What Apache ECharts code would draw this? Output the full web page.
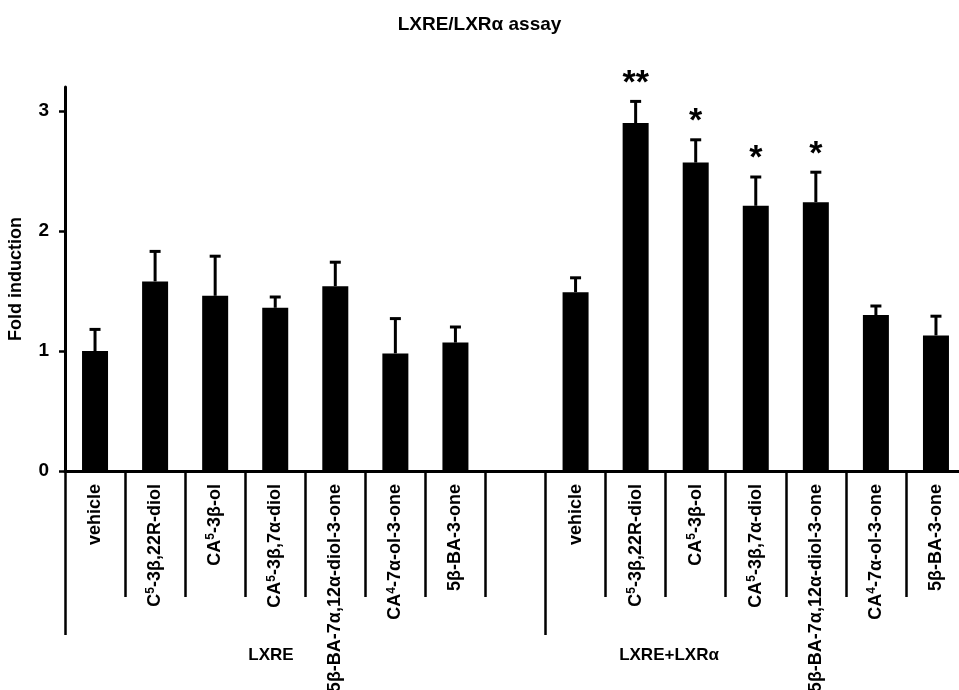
<!DOCTYPE html>
<html>
<head>
<meta charset="utf-8">
<script src="https://cdn.jsdelivr.net/npm/echarts@6/dist/echarts.min.js"></script>
<style>html,body{margin:0;padding:0;background:#fff;}#c{width:959px;height:690px;}</style>
</head>
<body>
<div id="c"></div>
<script>
// ---- data ----
var compounds = ['vehicle', 'C⁵-3β,22R-diol', 'CA⁵-3β-ol', 'CA⁵-3β,7α-diol', '5β-BA-7α,12α-diol-3-one', 'CA⁴-7α-ol-3-one', '5β-BA-3-one'];
var groups = ['LXRE', 'LXRE+LXRα'];
var lxreMeans = [1.00, 1.58, 1.46, 1.36, 1.54, 0.98, 1.07];
var lxreErrors = [0.18, 0.25, 0.33, 0.09, 0.20, 0.29, 0.13];
var lxrMeans = [1.49, 2.90, 2.57, 2.21, 2.24, 1.30, 1.13];
var lxrErrors = [0.12, 0.18, 0.19, 0.24, 0.25, 0.075, 0.16];
var lxreSig = ['', '', '', '', '', '', ''];
var lxrSig = ['', '**', '*', '*', '*', '', ''];
var yTicks = [0, 1, 2, 3];

// ---- build ----
var categories = compounds.concat(['']).concat(compounds);
var barData = lxreMeans.concat(['-']).concat(lxrMeans);
var errData = [];
var sigList = [];
lxreMeans.forEach(function (m, i) { errData.push([i, m, lxreErrors[i]]); sigList.push(lxreSig[i]); });
lxrMeans.forEach(function (m, i) { errData.push([i + compounds.length + 1, m, lxrErrors[i]]); sigList.push(lxrSig[i]); });
var groupStart = [0, compounds.length + 1];

var FONT = 'Liberation Sans, Arial, sans-serif';
function supFormat(v) {
  return v.replace(/⁵/g, '{s|5}').replace(/⁴/g, '{s|4}');
}
var chart = echarts.init(document.getElementById('c'), null, {renderer: 'canvas'});
chart.setOption({
  animation: false,
  backgroundColor: '#fff',
  title: {
    text: 'LXRE/LXRα assay', left: 'center', top: 15, padding: 0,
    textStyle: {fontFamily: FONT, fontWeight: 'bold', fontSize: 19, color: '#000'}
  },
  grid: {left: 65, top: 87, width: 901, bottom: 219, containLabel: false, outerBoundsMode: 'none'},
  xAxis: [{
    type: 'category', data: categories, boundaryGap: true, position: 'bottom',
    axisLine: {lineStyle: {color: '#000', width: 3}},
    axisTick: {show: true, interval: 0, length: 126, lineStyle: {color: '#000', width: 2.5}},
    axisLabel: {interval: 0, rotate: 90, margin: 13, color: '#000', fontFamily: FONT, fontWeight: 'bold', fontSize: 18,
      lineHeight: 20, formatter: supFormat, hideOverlap: false,
      rich: {s: {fontFamily: FONT, fontWeight: 'bold', fontSize: 12, color: '#000', verticalAlign: 'top', lineHeight: 20}}},
    splitLine: {show: false}
  }, {
    type: 'category', data: categories, boundaryGap: true, position: 'bottom',
    axisLine: {show: false},
    axisTick: {show: true, length: 164, lineStyle: {color: '#000', width: 2.5},
      interval: function (idx) { return groupStart.indexOf(idx) >= 0; }},
    axisLabel: {show: false},
    splitLine: {show: false}
  }],
  yAxis: {
    type: 'value', min: 0, max: 3.2, interval: 1,
    name: 'Fold induction', nameLocation: 'middle', nameGap: 40,
    nameTextStyle: {fontFamily: FONT, fontWeight: 'bold', fontSize: 18, color: '#000'},
    axisLine: {show: true, lineStyle: {color: '#000', width: 3}},
    axisTick: {show: true, length: 6, lineStyle: {color: '#000', width: 2.5}, customValues: yTicks},
    axisLabel: {color: '#000', fontFamily: FONT, fontWeight: 'bold', fontSize: 19, margin: 16, customValues: yTicks},
    splitLine: {show: false}
  },
  graphic: [
    {type: 'text', x: 271, y: 655, style: {text: groups[0], align: 'center', verticalAlign: 'middle', font: 'bold 17px ' + FONT, fill: '#000'}},
    {type: 'text', x: 669, y: 655, style: {text: groups[1], align: 'center', verticalAlign: 'middle', font: 'bold 17px ' + FONT, fill: '#000'}}
  ],
  series: [{
    type: 'bar', data: barData, barWidth: 26, xAxisIndex: 0,
    itemStyle: {color: '#000'}
  }, {
    type: 'custom', xAxisIndex: 0, data: errData, z: 3,
    renderItem: function (params, api) {
      var i = api.value(0), m = api.value(1), e = api.value(2);
      var base = api.coord([i, m]);
      var top = api.coord([i, m + e]);
      var children = [
        {type: 'line', shape: {x1: base[0], y1: base[1], x2: top[0], y2: top[1]}, style: {stroke: '#000', lineWidth: 3}},
        {type: 'line', shape: {x1: top[0] - 5.5, y1: top[1], x2: top[0] + 5.5, y2: top[1]}, style: {stroke: '#000', lineWidth: 3}}
      ];
      var s = sigList[params.dataIndex];
      if (s) {
        children.push({type: 'text', style: {text: s, x: top[0], y: top[1] - 18, align: 'center', verticalAlign: 'middle', font: 'bold 34px ' + FONT, fill: '#000'}});
      }
      return {type: 'group', children: children};
    }
  }]
});
</script>
</body>
</html>
